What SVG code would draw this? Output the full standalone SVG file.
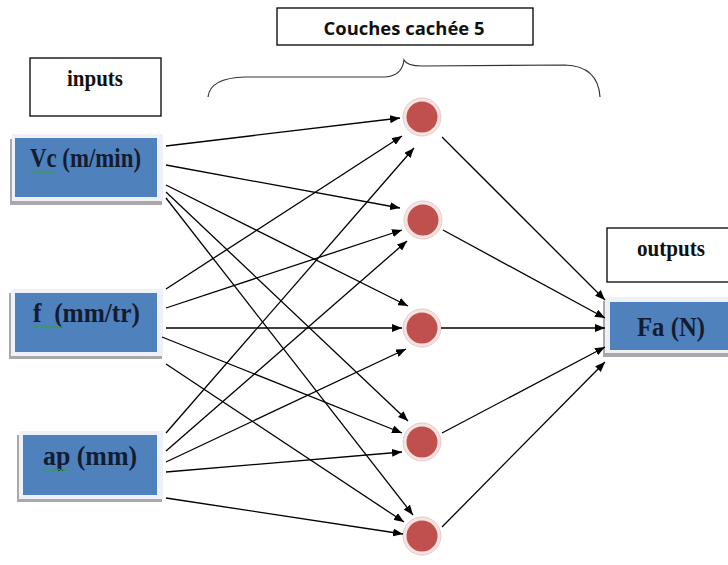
<svg xmlns="http://www.w3.org/2000/svg" width="728" height="565" viewBox="0 0 728 565">
<style>
.lbl{fill:#fff;stroke:#000;stroke-width:1.3}
.t{font-family:"Liberation Serif",serif;font-weight:bold;font-size:20px;fill:#111;text-anchor:middle}
.tb{font-family:"Liberation Serif",serif;font-weight:bold;font-size:22px;fill:#141c30;text-anchor:middle}
.ts{font-family:"Open Sans","Liberation Sans",sans-serif;font-weight:bold;font-size:17px;fill:#111;text-anchor:middle}
.shadow{fill:#a9a9a9}
.frame{fill:#eef2f8}
.blue{fill:#4f81bd}
.ring{fill:#f6e3e2;stroke:#e8c9c8;stroke-width:1}
.red{fill:#c0504d}
.sq{fill:none;stroke:#3a9a5a;stroke-width:1.1}
.edge line{stroke:#000;stroke-width:1.3;marker-end:url(#ah)}
</style>
<defs>
<marker id="ah" viewBox="0 0 10 8" refX="10" refY="4" markerWidth="10" markerHeight="8" markerUnits="userSpaceOnUse" orient="auto">
<path d="M0,0 L10,4 L0,8 z" fill="#000"/>
</marker>
</defs>
<rect width="728" height="565" fill="#fff"/>

<g id="label-inputs">
<rect class="lbl" x="30" y="58" width="131" height="58"/>
<text class="t" transform="translate(95,86) scale(1,1.2)" textLength="56" lengthAdjust="spacingAndGlyphs">inputs</text>
</g>

<g id="label-hidden">
<rect class="lbl" x="277" y="8" width="256" height="37"/>
<text class="ts" x="404" y="35" textLength="161" lengthAdjust="spacingAndGlyphs">Couches cachée 5</text>
<path d="M208,97 Q210,78 245,77 L385,77 Q402,76 404,60 Q407,66 422,66 L565,65 Q598,66 600,97" fill="none" stroke="#333" stroke-width="1.2"/>
</g>

<g id="label-outputs">
<rect class="lbl" x="607" y="228" width="130" height="54"/>
<text class="t" transform="translate(671,256) scale(1,1.2)" textLength="68" lengthAdjust="spacingAndGlyphs">outputs</text>
</g>

<g id="input-vc">
<rect class="shadow" x="10" y="139" width="152" height="66"/>
<rect class="frame" x="12" y="134" width="151" height="67"/>
<rect class="blue" x="15" y="138" width="142" height="59"/>
<text class="tb" transform="translate(85.5,167) scale(1,1.2)" textLength="111" lengthAdjust="spacingAndGlyphs">Vc (m/min)</text>
<path class="sq" d="M30,171 l2,2 l2,-2 l2,2 l2,-2 l2,2 l2,-2 l2,2 l2,-2 l2,2 l2,-2 l2,2 l2,-2"/>
</g>

<g id="input-f">
<rect class="shadow" x="9" y="293" width="153" height="66"/>
<rect class="frame" x="11" y="289" width="152" height="67"/>
<rect class="blue" x="15" y="293" width="142" height="59"/>
<text class="tb" transform="translate(86.5,322) scale(1,1.2)" textLength="107" lengthAdjust="spacingAndGlyphs" xml:space="preserve">f  (mm/tr)</text>
<path class="sq" d="M34,326 l2,2 l2,-2 l2,2 l2,-2 l2,2 l2,-2 l2,2 l2,-2 l2,2 l2,-2 l2,2 l2,-2 l2,2 l2,-2"/>
</g>

<g id="input-ap">
<rect class="shadow" x="17" y="435" width="145" height="67"/>
<rect class="frame" x="19" y="431" width="144" height="68"/>
<rect class="blue" x="23" y="435" width="134" height="60"/>
<text class="tb" transform="translate(90,465) scale(1,1.2)" textLength="94" lengthAdjust="spacingAndGlyphs">ap (mm)</text>
<path class="sq" d="M43,469 l2,2 l2,-2 l2,2 l2,-2 l2,2 l2,-2 l2,2 l2,-2 l2,2 l2,-2 l2,2 l2,-2 l2,2"/>
</g>

<g id="output-fa">
<rect class="shadow" x="603" y="301" width="130" height="56"/>
<rect class="frame" x="605" y="297" width="130" height="56"/>
<rect class="blue" x="610" y="302" width="125" height="48"/>
<text class="tb" transform="translate(671,336) scale(1,1.2)" textLength="68" lengthAdjust="spacingAndGlyphs">Fa (N)</text>
</g>

<g id="hidden-1"><circle class="ring" cx="422" cy="117" r="19"/><circle class="red" cx="422" cy="117" r="15.5"/></g>
<g id="hidden-2"><circle class="ring" cx="423" cy="220" r="19"/><circle class="red" cx="423" cy="220" r="15.5"/></g>
<g id="hidden-3"><circle class="ring" cx="422" cy="328" r="19"/><circle class="red" cx="422" cy="328" r="15.5"/></g>
<g id="hidden-4"><circle class="ring" cx="422" cy="442" r="19"/><circle class="red" cx="422" cy="442" r="15.5"/></g>
<g id="hidden-5"><circle class="ring" cx="422" cy="536" r="19"/><circle class="red" cx="422" cy="536" r="15.5"/></g>

<g id="connectors" class="edge">
<line x1="166" y1="146" x2="400" y2="118"/>
<line x1="166" y1="165" x2="400" y2="208"/>
<line x1="166" y1="185" x2="408" y2="306"/>
<line x1="166" y1="192" x2="408" y2="421"/>
<line x1="166" y1="198" x2="413" y2="515"/>
<line x1="166" y1="289" x2="402" y2="136"/>
<line x1="166" y1="308" x2="402" y2="230"/>
<line x1="166" y1="328" x2="402" y2="328"/>
<line x1="162" y1="337" x2="402" y2="433"/>
<line x1="166" y1="364" x2="404" y2="522"/>
<line x1="166" y1="433" x2="414" y2="148"/>
<line x1="166" y1="451" x2="407" y2="241"/>
<line x1="166" y1="462" x2="406" y2="349"/>
<line x1="166" y1="472" x2="402" y2="452"/>
<line x1="166" y1="498" x2="403" y2="534"/>
<line x1="442" y1="137" x2="605" y2="300"/>
<line x1="443" y1="230" x2="605" y2="318"/>
<line x1="441" y1="328" x2="605" y2="328"/>
<line x1="442" y1="433" x2="605" y2="347"/>
<line x1="442" y1="527" x2="605" y2="362"/>
</g>
</svg>
